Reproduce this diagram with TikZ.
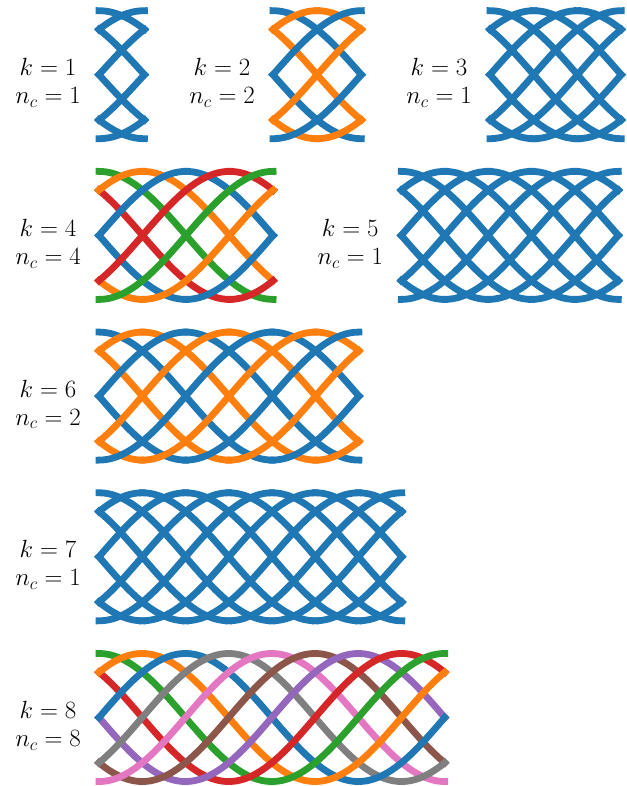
\documentclass[tikz,border=0pt]{standalone}
\definecolor{C0}{HTML}{1F77B4}
\definecolor{C1}{HTML}{FF7F0E}
\definecolor{C2}{HTML}{2CA02C}
\definecolor{C3}{HTML}{D62728}
\definecolor{C4}{HTML}{9467BD}
\definecolor{C5}{HTML}{8C564B}
\definecolor{C6}{HTML}{E377C2}
\definecolor{C7}{HTML}{7F7F7F}
\begin{document}
\begin{tikzpicture}[x=1pt,y=-1pt,
  strand/.style={line width=6.8pt, line cap=rect, line join=round},
  lab/.style={anchor=base, inner sep=0pt, font=\fontsize{24}{29}\selectfont}]
\useasboundingbox (0,0) rectangle (626,786);
\foreach \k/\xo/\yc/\nc in {1/99/74.7/1, 2/273/74.7/2, 3/490/74.7/1, 4/99/235.4/4, 5/401.3/235.4/1, 6/99/396.1/2, 7/99/556.8/1, 8/99/717.5/8}{
  \pgfmathsetmacro\W{42.9*\k+2.5}
  \pgfmathsetmacro\tmax{45*\k}
  % falling parts first (pass 1), rising parts on top (pass 0)
  \foreach \pass in {1,0}{
    \foreach \j in {0,...,7}{
      \pgfmathtruncatemacro\cc{mod(\j,\nc)}
      \pgfmathsetmacro\p{45*\j}
      \foreach \n in {0,...,4}{
        \pgfmathtruncatemacro\pty{mod(\n,2)}
        \ifnum\pty=\pass
          \pgfmathsetmacro\a{max(\p,180*\n-90)}
          \pgfmathsetmacro\b{min(\p+\tmax,180*\n+90)}
          \pgfmathtruncatemacro\ok{(\b-\a)>0.5}
          \ifnum\ok=1
            \pgfmathtruncatemacro\ns{(\b-\a)/3+2}
            \draw[strand, color=C\cc, domain=\a:\b, samples=\ns, variable=\u]
              plot ({\xo+(\u-\p)/\tmax*\W}, {\yc-64*sin(\u)});
          \fi
        \fi
      }
    }
  }
  \node[lab] (k\k) at (\xo-51, \yc+1) {$k=\k$};
  \node[lab] (n\k) at (\xo-51, \yc+29) {$n_c=\nc$};
}
\end{tikzpicture}
\end{document}
